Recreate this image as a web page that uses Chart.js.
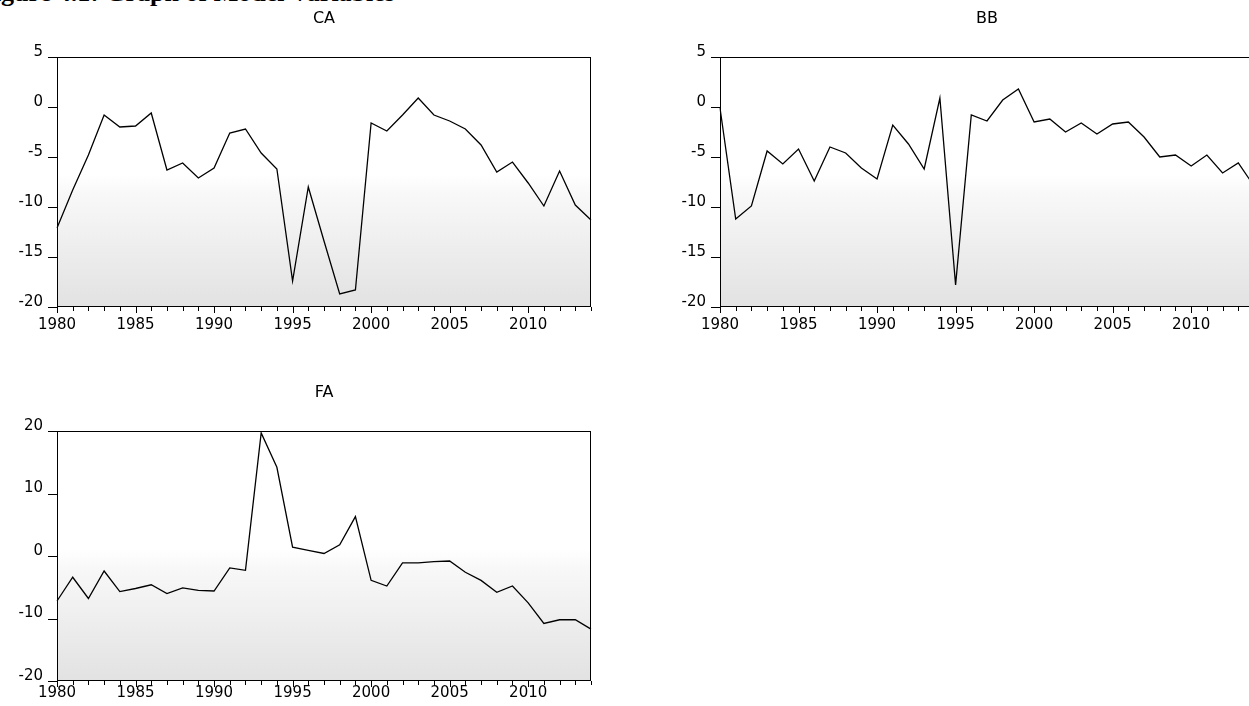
<!DOCTYPE html>
<html>
<head>
<meta charset="utf-8">
<script src="https://cdn.jsdelivr.net/npm/chart.js@4.4.0/dist/chart.umd.min.js"></script>
<style>
html, body { margin: 0; padding: 0; background: #fff; }
body { width: 1249px; height: 706px; overflow: hidden; position: relative; }
.box { position: absolute; width: 610px; height: 335px; }
#figTitle {
    position: absolute; left: -22px; top: -22px;
    font: bold 26px "Liberation Serif", "Times New Roman", serif;
    white-space: nowrap; color: #000;
}
</style>
</head>
<body>
<div id="figTitle">Figure 4.1: Graph of Model Variables</div>
<div class="box" style="left:0px;top:0px"><canvas id="caChart"></canvas></div>
<div class="box" style="left:663px;top:0px"><canvas id="bbChart"></canvas></div>
<div class="box" style="left:0px;top:374px"><canvas id="faChart"></canvas></div>
<script>
// years on the x axis
const years = ['1980','1981','1982','1983','1984','1985','1986','1987','1988','1989',
    '1990','1991','1992','1993','1994','1995','1996','1997','1998','1999',
    '2000','2001','2002','2003','2004','2005','2006','2007','2008','2009',
    '2010','2011','2012','2013','2014'];
const yearLabels = ['1980','1985','1990','1995','2000','2005','2010'];

const caValues = [-12.1, -8.3, -4.8, -0.8, -2.0, -1.9, -0.6, -6.3, -5.6, -7.1,
    -6.1, -2.6, -2.2, -4.6, -6.2, -17.4, -8.0, -13.4, -18.7, -18.3,
    -1.6, -2.4, -0.8, 0.9, -0.8, -1.4, -2.2, -3.8, -6.5, -5.5,
    -7.6, -9.9, -6.4, -9.8, -11.3];
const bbValues = [-0.1, -11.2, -9.9, -4.4, -5.7, -4.2, -7.4, -4.0, -4.6, -6.1,
    -7.2, -1.8, -3.7, -6.2, 0.9, -17.8, -0.8, -1.4, 0.7, 1.8,
    -1.5, -1.2, -2.5, -1.6, -2.7, -1.7, -1.5, -3.0, -5.0, -4.8,
    -5.9, -4.8, -6.6, -5.6, -7.9];
const faValues = [-7.2, -3.4, -6.8, -2.4, -5.7, -5.2, -4.6, -6.0, -5.1, -5.5,
    -5.6, -1.9, -2.3, 19.7, 14.2, 1.4, 0.9, 0.4, 1.8, 6.3,
    -3.9, -4.8, -1.1, -1.1, -0.9, -0.8, -2.6, -3.9, -5.8, -4.8,
    -7.5, -10.8, -10.2, -10.2, -11.7];

const smallTicks = [5, 0, -5, -10, -15, -20];
const wideTicks = [20, 10, 0, -10, -20];

const axisFont = {family: 'DejaVu Sans', size: 15};

// gradient panel, frame, tick marks and panel name (eviews look)
const framePlugin = {
    id: 'frame',
    beforeDatasetsDraw(chart) {
        const {ctx, chartArea: a} = chart;
        const g = ctx.createLinearGradient(0, a.top, 0, a.bottom);
        g.addColorStop(0, '#ffffff');
        g.addColorStop(0.47, '#ffffff');
        g.addColorStop(0.55, '#f8f8f8');
        g.addColorStop(1, '#e2e2e2');
        ctx.save();
        ctx.fillStyle = g;
        ctx.fillRect(a.left, a.top, a.width, a.height);
        ctx.restore();
    },
    afterDatasetsDraw(chart, args, opts) {
        const {ctx, chartArea: a} = chart;
        const xs = chart.scales.x;
        const ys = chart.scales.y;
        ctx.save();
        ctx.strokeStyle = '#000';
        ctx.lineWidth = 1;
        ctx.strokeRect(Math.round(a.left) + 0.5, Math.round(a.top) + 0.5,
            Math.round(a.width) - 1, Math.round(a.height) - 1);

        ctx.beginPath();
        ys.ticks.forEach(t => {
            const y = Math.round(ys.getPixelForValue(t.value)) + 0.5;
            ctx.moveTo(a.left - 9, y);
            ctx.lineTo(a.left, y);
        });
        years.forEach((yr, i) => {
            const x = Math.round(xs.getPixelForValue(i)) + 0.5;
            const len = yearLabels.includes(yr) ? 6 : 4;
            ctx.moveTo(x, a.bottom);
            ctx.lineTo(x, a.bottom + len);
        });
        ctx.stroke();

        ctx.fillStyle = '#000';
        ctx.font = '16px "DejaVu Sans"';
        ctx.textAlign = 'center';
        ctx.textBaseline = 'middle';
        ctx.fillText(opts.label, (a.left + a.right) / 2, a.top - 38);
        ctx.restore();
    }
};

const makeChart = (id, label, values, tickValues, min, max, labelPad) => {
    const ctx = document.getElementById(id).getContext('2d');
    return new Chart(ctx, {
        type: 'line',
        data: {
            labels: years,
            datasets: [{
                label: label,
                data: values,
                borderColor: '#000',
                borderWidth: 1.3,
                pointRadius: 0,
                tension: 0,
                fill: false,
            }],
        },
        options: {
            responsive: true,
            maintainAspectRatio: false,
            animation: false,
            layout: {padding: {left: 0, right: 19, top: 57, bottom: 0}},
            plugins: {
                legend: {display: false},
                tooltip: {enabled: false},
                frame: {label: label},
            },
            scales: {
                x: {
                    type: 'category',
                    offset: false,
                    grid: {display: false, drawTicks: false},
                    border: {display: false},
                    ticks: {
                        autoSkip: false,
                        maxRotation: 0,
                        padding: labelPad,
                        color: '#000',
                        font: axisFont,
                        callback: (v, i) => yearLabels.includes(years[i]) ? years[i] : '',
                    },
                    afterFit: (scale) => { scale.height = 28; },
                },
                y: {
                    min: min,
                    max: max,
                    grid: {display: false, drawTicks: false},
                    border: {display: false},
                    ticks: {
                        padding: 14,
                        labelOffset: -5,
                        color: '#000',
                        font: axisFont,
                    },
                    afterBuildTicks: (scale) => {
                        scale.ticks = tickValues.map(v => ({value: v}));
                    },
                    afterFit: (scale) => { scale.width = 57; },
                },
            },
        },
        plugins: [framePlugin],
    });
};

makeChart('caChart', 'CA', caValues, smallTicks, -20, 5, 9);
makeChart('bbChart', 'BB', bbValues, smallTicks, -20, 5, 9);
makeChart('faChart', 'FA', faValues, wideTicks, -20, 20, 3);
</script>
</body>
</html>
